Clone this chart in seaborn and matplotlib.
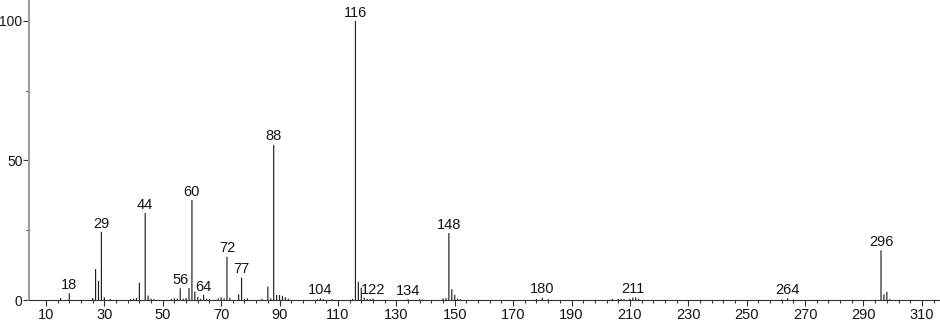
import numpy as np
import pandas as pd
import matplotlib
matplotlib.use("Agg")
import matplotlib.pyplot as plt
import seaborn as sns
from matplotlib.ticker import FixedLocator

# ---- data (m/z, relative intensity %) ----
mz = [15, 18, 26, 27, 28, 29, 30, 32, 39, 40, 41, 42, 44, 45, 46, 47,
      53, 54, 55, 56, 57, 58, 59, 60, 61, 62, 63, 64, 65, 66, 69, 70, 71,
      72, 73, 76, 77, 78, 79, 84, 86, 87, 88, 89, 90, 91, 92, 93,
      103, 104, 105, 108, 115, 116, 117, 118, 119, 120, 121, 122,
      134, 138, 139, 146, 147, 148, 149, 150, 151, 152,
      178, 180, 182, 204, 206, 207, 208, 210, 211, 212, 213,
      262, 264, 266, 296, 297, 298, 299]
intensity = [0.7, 2.4, 0.7, 11.1, 6.9, 24.4, 1.0, 0.3, 0.3, 0.5, 0.7, 6.2, 31.2, 1.6, 0.5, 0.3,
             0.4, 0.6, 0.5, 4.2, 0.5, 0.7, 4.3, 35.8, 3.0, 1.1, 0.4, 1.8, 0.5, 0.4, 0.6, 1.0, 0.6,
             15.5, 0.8, 2.0, 8.0, 0.4, 0.6, 0.4, 4.8, 0.6, 55.6, 1.8, 1.8, 1.5, 1.0, 0.5,
             0.3, 0.6, 0.3, 0.3, 0.4, 100.0, 6.5, 4.4, 0.8, 0.4, 0.3, 0.5,
             0.3, 0.3, 0.2, 0.6, 0.6, 24.0, 3.9, 1.8, 0.5, 0.3,
             0.4, 0.8, 0.3, 0.4, 0.4, 0.4, 0.3, 0.5, 0.9, 0.9, 0.4,
             0.2, 0.6, 0.2, 17.8, 2.0, 2.9, 0.3]
labeled_peaks = [18, 29, 44, 56, 60, 64, 72, 77, 88, 104, 116, 122, 134, 148, 180, 211, 264, 296]
x_ticks = list(range(10, 311, 20))
y_ticks = [0, 50, 100]

df = pd.DataFrame({"mz": mz, "intensity": intensity})

sns.set_theme(style="ticks")
plt.rcParams['font.family'] = ['Liberation Sans', 'DejaVu Sans']

fig = plt.figure(figsize=(9.4, 3.23), dpi=100)
ax = fig.add_axes([29 / 940, 23 / 323, 911 / 940, 300 / 323])

ax.vlines(df["mz"], 0, df["intensity"], color="#222222", linewidth=0.85, snap=False)

for m in labeled_peaks:
    h = df.loc[df["mz"] == m, "intensity"].iloc[0]
    ax.annotate(str(m), xy=(m, h), xytext=(0, 1), textcoords="offset points",
                ha="center", va="bottom", fontsize=10.5, color="#151515")

ax.set_xlim(4.2, 316.2)
ax.set_ylim(0, 107.5)
ax.xaxis.set_major_locator(FixedLocator(x_ticks))
ax.xaxis.set_minor_locator(FixedLocator(list(range(10, 317, 4))))
ax.yaxis.set_major_locator(FixedLocator(y_ticks))
ax.yaxis.set_minor_locator(FixedLocator([25, 75]))

ax.tick_params(axis="x", which="major", length=4.5, width=0.8, pad=1, labelsize=10.5,
               color="#333333", labelcolor="#151515")
ax.tick_params(axis="x", which="minor", length=2.5, width=0.8, color="#333333")
ax.tick_params(axis="y", which="major", length=4, width=0.8, pad=0.6, labelsize=10,
               color="#333333", labelcolor="#151515")
ax.tick_params(axis="y", which="minor", length=2, width=0.8, color="#333333")

sns.despine(ax=ax, top=True, right=True)
ax.spines["left"].set_color("#9a9a9a")
ax.spines["left"].set_linewidth(1.4)
ax.spines["bottom"].set_color("#333333")
ax.spines["bottom"].set_linewidth(0.8)
ax.set_xlabel("")
ax.set_ylabel("")
ax.patch.set_alpha(0)

fig.savefig("out.png", dpi=100)
